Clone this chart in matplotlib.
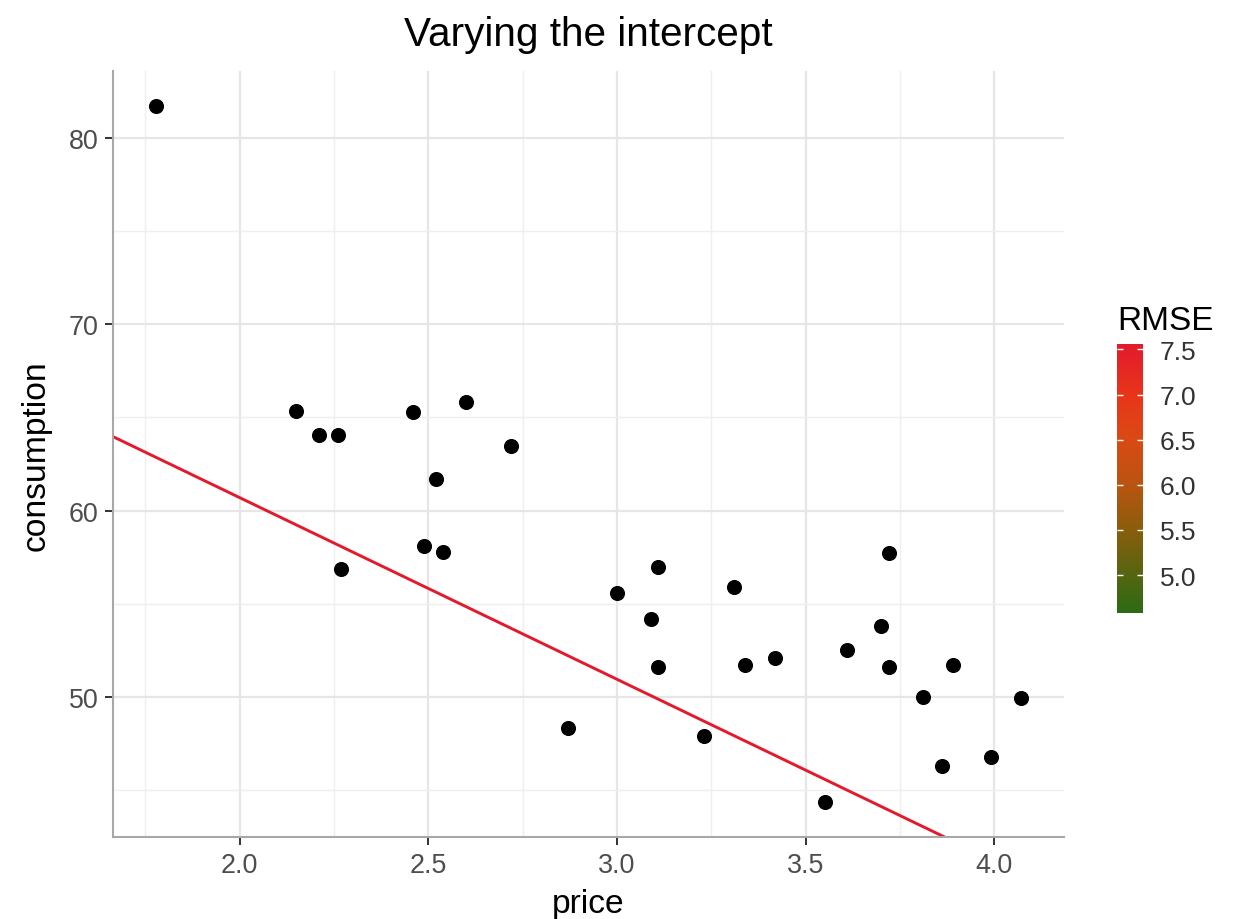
import numpy as np
import matplotlib
matplotlib.use("Agg")
import matplotlib.pyplot as plt
from matplotlib.colors import LinearSegmentedColormap, Normalize
from matplotlib.ticker import MultipleLocator
import matplotlib.cm as cm

# ---------------- data ----------------
price = [1.78, 2.15, 2.21, 2.26, 2.46, 2.60, 2.72, 2.52, 2.49, 2.54, 2.27,
         3.00, 2.87, 3.09, 3.11, 3.11, 3.23, 3.31, 3.34, 3.42, 3.55, 3.61,
         3.70, 3.72, 3.72, 3.81, 3.89, 3.86, 3.99, 4.07]
consumption = [81.7, 65.35, 64.05, 64.05, 65.27, 65.85, 63.46, 61.68, 58.08, 57.78, 56.88,
               55.59, 48.32, 54.20, 56.98, 51.61, 47.91, 55.89, 51.71, 52.11, 44.34, 52.50,
               53.80, 57.70, 51.61, 50.00, 51.71, 46.30, 46.80, 49.93]
line_intercept = 80.2
line_slope = -9.75
line_rmse = 7.55
rmse_limits = [4.58, 7.56]
rmse_ticks = [5.0, 5.5, 6.0, 6.5, 7.0, 7.5]
x_ticks = [2.0, 2.5, 3.0, 3.5, 4.0]
y_ticks = [50, 60, 70, 80]

title = "Varying the intercept"
x_label = "price"
y_label = "consumption"
legend_title = "RMSE"

# ---------------- style ----------------
plt.rcParams['font.family'] = ['Liberation Sans', 'DejaVu Sans']

cmap = LinearSegmentedColormap.from_list(
    "rmse",
    [(0.0, "#2C6A14"), (0.14, "#556510"), (0.31, "#8A5D0C"),
     (0.48, "#BA5410"), (0.65, "#DA4913"), (0.81, "#E8351A"), (1.0, "#E31A2C")])
norm = Normalize(vmin=rmse_limits[0], vmax=rmse_limits[1])

fig = plt.figure(figsize=(12.5, 9.2), dpi=100)
ax = fig.add_axes([0.0906, 0.0888, 0.7606, 0.8326])

x = np.array(price)
y = np.array(consumption)

xr = x.max() - x.min()
yr = y.max() - y.min()
ax.set_xlim(x.min() - 0.05 * xr, x.max() + 0.05 * xr)
ax.set_ylim(y.min() - 0.05 * yr, y.max() + 0.05 * yr)

# grid
ax.set_xticks(x_ticks)
ax.set_yticks(y_ticks)
ax.xaxis.set_minor_locator(MultipleLocator(0.25))
ax.yaxis.set_minor_locator(MultipleLocator(5))
ax.grid(which='major', color='#E6E6E6', linewidth=1.6)
ax.grid(which='minor', color='#EFEFEF', linewidth=1.0)
ax.set_axisbelow(True)
ax.tick_params(which='minor', length=0)

# line
xl = np.array(ax.get_xlim())
ax.plot(xl, line_intercept + line_slope * xl, color=cmap(norm(line_rmse)),
        linewidth=2.1, zorder=2, solid_capstyle='butt')
ax.set_xlim(xl)

# points
ax.scatter(x, y, s=118, color='black', zorder=3, linewidths=0)

# spines
for s in ['top', 'right']:
    ax.spines[s].set_visible(False)
for s in ['left', 'bottom']:
    ax.spines[s].set_color('#A8A8A8')
    ax.spines[s].set_linewidth(1.5)

ax.tick_params(which='major', length=5.5, width=1.4, color='#333333',
               labelsize=19.4, labelcolor='#4D4D4D', pad=5)
ax.set_xticklabels([f"{v:.1f}" for v in x_ticks])
ax.set_yticklabels([f"{v:d}" for v in y_ticks])

ax.set_xlabel(x_label, fontsize=24.2, color='black', labelpad=7)
ax.set_ylabel(y_label, fontsize=24.2, color='black', labelpad=12)

fig.text(0.4708, 0.962, title, fontsize=29.2, ha='center', va='center', color='black')

# colorbar
cax = fig.add_axes([0.8936, 0.3326, 0.0208, 0.2924])
sm = cm.ScalarMappable(norm=norm, cmap=cmap)
cb = fig.colorbar(sm, cax=cax, ticks=rmse_ticks)
cb.outline.set_visible(False)
cax.tick_params(direction='in', left=True, right=True, color='white', length=4.5,
                width=1.0, labelsize=19, labelcolor='#333333', pad=12)
cax.set_yticklabels([f"{v:.1f}" for v in rmse_ticks])
cax.text(0.0, 1.03, legend_title, transform=cax.transAxes, fontsize=24, ha='left',
         va='bottom', color='black')

fig.savefig("out.png", dpi=100)
